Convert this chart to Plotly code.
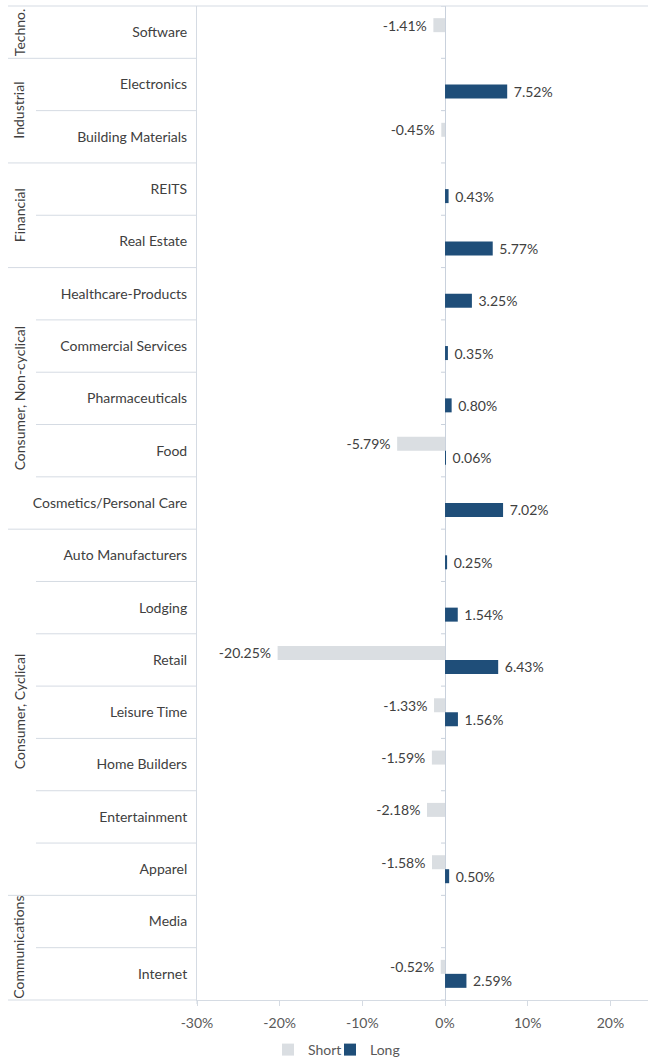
import plotly.graph_objects as go

categories = ["Software", "Electronics", "Building Materials", "REITS", "Real Estate",
              "Healthcare-Products", "Commercial Services", "Pharmaceuticals", "Food",
              "Cosmetics/Personal Care", "Auto Manufacturers", "Lodging", "Retail",
              "Leisure Time", "Home Builders", "Entertainment", "Apparel", "Media", "Internet"]
short_vals = [-1.41, None, -0.45, None, None, None, None, None, -5.79, None,
              None, None, -20.25, -1.33, -1.59, -2.18, -1.58, None, -0.52]
long_vals = [None, 7.52, None, 0.43, 5.77, 3.25, 0.35, 0.80, 0.06, 7.02,
             0.25, 1.54, 6.43, 1.56, None, None, 0.50, None, 2.59]
group_names = ["Techno.", "Industrial", "Financial", "Consumer, Non-cyclical",
               "Consumer, Cyclical", "Communications"]
group_sizes = [1, 2, 2, 5, 7, 2]
x_ticks = [-30, -20, -10, 0, 10, 20]
x_tick_labels = ["-30%", "-20%", "-10%", "0%", "10%", "20%"]

W, H = 649, 1059
ML, MR, MT, MB = 197, 1, 6, 59
XMIN, XMAX = -30, 24.55
PW = W - ML - MR
PH = H - MT - MB

FONT = "Lato"
LINE = "#d5dbe3"
n = len(categories)
ypos = list(range(n))
NB = "\u00a0"

fig = go.Figure()
fig.add_trace(go.Bar(name="Short", y=ypos, x=short_vals, orientation="h",
                     marker=dict(color="#dadee2", line=dict(width=0)),
                     texttemplate=NB + "%{x:.2f}%" + NB, textposition="outside",
                     constraintext="none", cliponaxis=False, legend="legend",
                     showlegend=True,
                     textfont=dict(family=FONT, size=14, color="#404040")))
fig.add_trace(go.Bar(name="Long", y=ypos, x=long_vals, orientation="h",
                     marker=dict(color="#1f4e79", line=dict(width=0)),
                     texttemplate=NB + "%{x:.2f}%" + NB, textposition="outside",
                     constraintext="none", cliponaxis=False, legend="legend2",
                     showlegend=True,
                     textfont=dict(family=FONT, size=14, color="#404040")))

shapes = []
def px_to_paper_x(px):
    return (px - ML) / PW

# top border line
shapes.append(dict(type="line", xref="paper", yref="paper", x0=px_to_paper_x(8), x1=1,
                   y0=1, y1=1, line=dict(color=LINE, width=1)))
# bottom border for label region
shapes.append(dict(type="line", xref="paper", yref="paper", x0=px_to_paper_x(8), x1=0,
                   y0=0, y1=0, line=dict(color=LINE, width=1)))
# category separators
group_bounds = set()
acc = 0
for s in group_sizes:
    acc += s
    group_bounds.add(acc)
for k in range(1, n):
    yp = 1 - k / n
    x0 = px_to_paper_x(8) if k in group_bounds else px_to_paper_x(36)
    shapes.append(dict(type="line", xref="paper", yref="paper", x0=x0, x1=0,
                       y0=yp, y1=yp, line=dict(color=LINE, width=1)))
# y axis line extends slightly below the plot
shapes.append(dict(type="line", xref="paper", yref="paper", x0=0, x1=0,
                   y0=0, y1=-4 / PH, line=dict(color=LINE, width=1)))
# tick marks on zero axis at category boundaries
tick_len = 4 * (XMAX - XMIN) / PW
for k in range(0, n + 1):
    shapes.append(dict(type="line", xref="x", yref="y", x0=-tick_len, x1=0,
                       y0=k - 0.5, y1=k - 0.5, line=dict(color="#c9d1dc", width=1)))

annotations = []
acc = 0
for name, s in zip(group_names, group_sizes):
    center = acc + s / 2
    annotations.append(dict(text=name, xref="paper", yref="paper",
                            x=px_to_paper_x(19), y=1 - center / n, textangle=-90,
                            showarrow=False, xanchor="center", yanchor="middle",
                            font=dict(family=FONT, size=14, color="#404040")))
    acc += s

legend_common = dict(orientation="h", xref="paper", yref="paper", xanchor="left",
                     y=-50 / PH, yanchor="middle", bgcolor="rgba(0,0,0,0)",
                     font=dict(family=FONT, size=14, color="#595959"), itemwidth=30)

fig.update_layout(
    width=W, height=H, showlegend=True,
    margin=dict(l=ML, r=MR, t=MT, b=MB, pad=0, autoexpand=False),
    paper_bgcolor="white", plot_bgcolor="white",
    barmode="group", bargap=0.465, bargroupgap=0,
    font=dict(family=FONT, size=14, color="#404040"),
    xaxis=dict(range=[XMIN, XMAX], tickvals=x_ticks, ticktext=x_tick_labels,
               showgrid=False, zeroline=True, zerolinecolor="#c9d1dc", zerolinewidth=1,
               showline=True, linecolor=LINE, linewidth=1, automargin=False,
               ticks="outside", ticklen=5, tickcolor=LINE, ticklabelstandoff=5,
               tickfont=dict(family=FONT, size=14, color="#595959")),
    yaxis=dict(range=[n - 0.5, -0.5], tickvals=ypos, ticktext=categories,
               showgrid=False, zeroline=False, showline=True, linecolor=LINE, linewidth=1,
               ticks="", ticklabelstandoff=6, automargin=False,
               tickfont=dict(family=FONT, size=14, color="#404040")),
    legend=dict(x=px_to_paper_x(268), **legend_common),
    legend2=dict(x=px_to_paper_x(330), **legend_common),
    shapes=shapes, annotations=annotations,
)

fig.write_html("out.html", post_script="document.body.style.margin='0';",
               config={"displayModeBar": False})
